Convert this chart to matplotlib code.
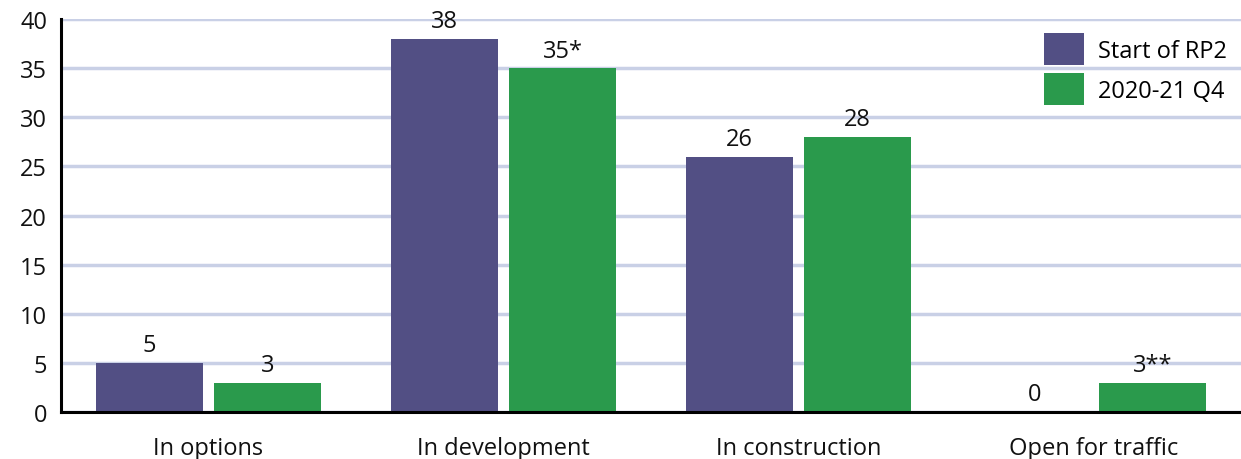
import matplotlib
matplotlib.use("Agg")
import matplotlib.pyplot as plt
import numpy as np

categories = ["In options", "In development", "In construction", "Open for traffic"]
series_names = ["Start of RP2", "2020-21 Q4"]
start_rp2 = [5, 38, 26, 0]
q4_2021 = [3, 35, 28, 3]
start_labels = ["5", "38", "26", "0"]
q4_labels = ["3", "35*", "28", "3**"]

PURPLE = "#524F84"
GREEN = "#2A9A4C"
GRID = "#C9D0E6"

plt.rcParams["font.family"] = ["Open Sans", "DejaVu Sans"]
FS = 17

fig = plt.figure(figsize=(12.41, 4.6), dpi=100)
ax = fig.add_axes([61 / 1241, 47 / 460, 1 - 61 / 1241, 393 / 460])

x = np.arange(len(categories))
w = 0.363
off = 0.2
b1 = ax.bar(x - off, start_rp2, w, color=PURPLE, label=series_names[0], zorder=3)
b2 = ax.bar(x + off, q4_2021, w, color=GREEN, label=series_names[1], zorder=3)

for rects, labels in ((b1, start_labels), (b2, q4_labels)):
    for r, lab in zip(rects, labels):
        ax.annotate(lab, (r.get_x() + r.get_width() / 2, r.get_height()),
                    xytext=(0, 4), textcoords="offset points",
                    ha="center", va="bottom", fontsize=FS, color="#111111", zorder=4)

ax.set_xlim(-0.5, 3.5)
ax.set_ylim(0, 40)
ax.set_yticks(range(0, 41, 5))
ax.set_xticks(x)
ax.set_xticklabels(categories)
ax.tick_params(axis="both", length=0, labelsize=FS, colors="#111111")
ax.tick_params(axis="x", pad=17)
ax.tick_params(axis="y", pad=10)
ax.yaxis.grid(True, color=GRID, linewidth=2.5, zorder=0)
ax.set_axisbelow(True)
for s in ("top", "right"):
    ax.spines[s].set_visible(False)
for s in ("left", "bottom"):
    ax.spines[s].set_linewidth(2.2)
    ax.spines[s].set_color("black")
    ax.spines[s].set_zorder(5)

ax.legend(loc="upper right", bbox_to_anchor=(1.0, 1.0), frameon=False,
          fontsize=FS, handlelength=1.7, handleheight=1.7, labelspacing=0.35,
          handletextpad=0.6, borderaxespad=0.2)

fig.savefig("out.png", dpi=100)
